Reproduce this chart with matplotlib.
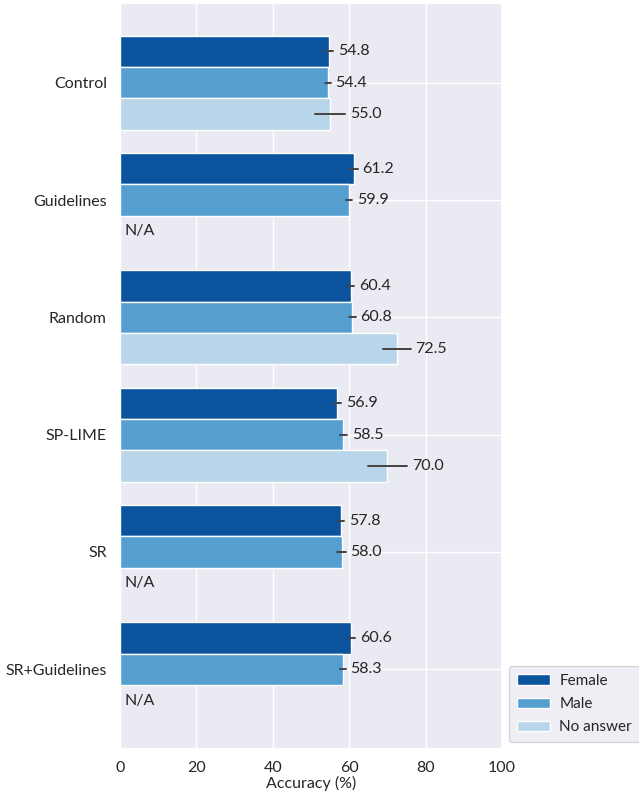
import numpy as np
import matplotlib
matplotlib.use("Agg")
import matplotlib.pyplot as plt
import seaborn as sns

methods = ["Control", "Guidelines", "Random", "SP-LIME", "SR", "SR+Guidelines"]
groups = ["Female", "Male", "No answer"]
female = [54.8, 61.2, 60.4, 56.9, 57.8, 60.6]
male = [54.4, 59.9, 60.8, 58.5, 58.0, 58.3]
no_answer = [55.0, np.nan, 72.5, 70.0, np.nan, np.nan]
female_err = [1.0, 1.0, 0.85, 0.9, 0.85, 0.9]
male_err = [0.75, 0.85, 0.85, 0.9, 1.1, 0.8]
no_answer_err = [4.0, 0.0, 3.6, 5.2, 0.0, 0.0]
colors = ["#0b539d", "#549fcf", "#b9d5ea"]

sns.set_theme(style="darkgrid")
plt.rcParams["font.family"] = ["Lato", "DejaVu Sans"]

fig = plt.figure(figsize=(6.39, 7.92), dpi=100)
ax = fig.add_axes([120/639, 1-749/792, 382/639, 746/792])

h = 0.8 / 3
y = np.arange(len(methods))
series = [female, male, no_answer]
errs = [female_err, male_err, no_answer_err]
for k, (vals, err, col, lab) in enumerate(zip(series, errs, colors, groups)):
    pos = y + (k - 1) * h
    v = np.array(vals, dtype=float)
    ax.barh(pos, np.nan_to_num(v), height=h, color=col, edgecolor="white",
            linewidth=1.0, label=lab, zorder=2)
    for p, val, e in zip(pos, v, err):
        if np.isnan(val):
            ax.annotate("N/A", (0, p), xytext=(3, 0), textcoords="offset points",
                        va="center", ha="left", fontsize=11.5, color="#262626")
            continue
        ax.plot([val - e, val + e], [p, p], color="#424242", lw=1.4, zorder=3)
        ax.annotate(f"{val:.1f}", (val + e, p), xytext=(3.5, 0),
                    textcoords="offset points", va="center", ha="left",
                    fontsize=11.5, color="#262626")

ax.set_xlim(0, 100)
ax.set_ylim(5.68, -0.68)
ax.set_yticks(y)
ax.set_yticklabels(methods, fontsize=11.5)
ax.set_xticks([0, 20, 40, 60, 80, 100])
ax.tick_params(axis="x", labelsize=11.5, pad=3)
ax.set_xlabel("Accuracy (%)", fontsize=11.5, labelpad=0)
ax.set_ylabel("")

fig.legend(loc="lower left", bbox_to_anchor=(509/639, 1-742/792), fontsize=11,
           frameon=True, handlelength=2.2, handletextpad=0.6, borderpad=0.5,
           labelspacing=0.6, borderaxespad=0)
fig.savefig("out.png", dpi=100)
